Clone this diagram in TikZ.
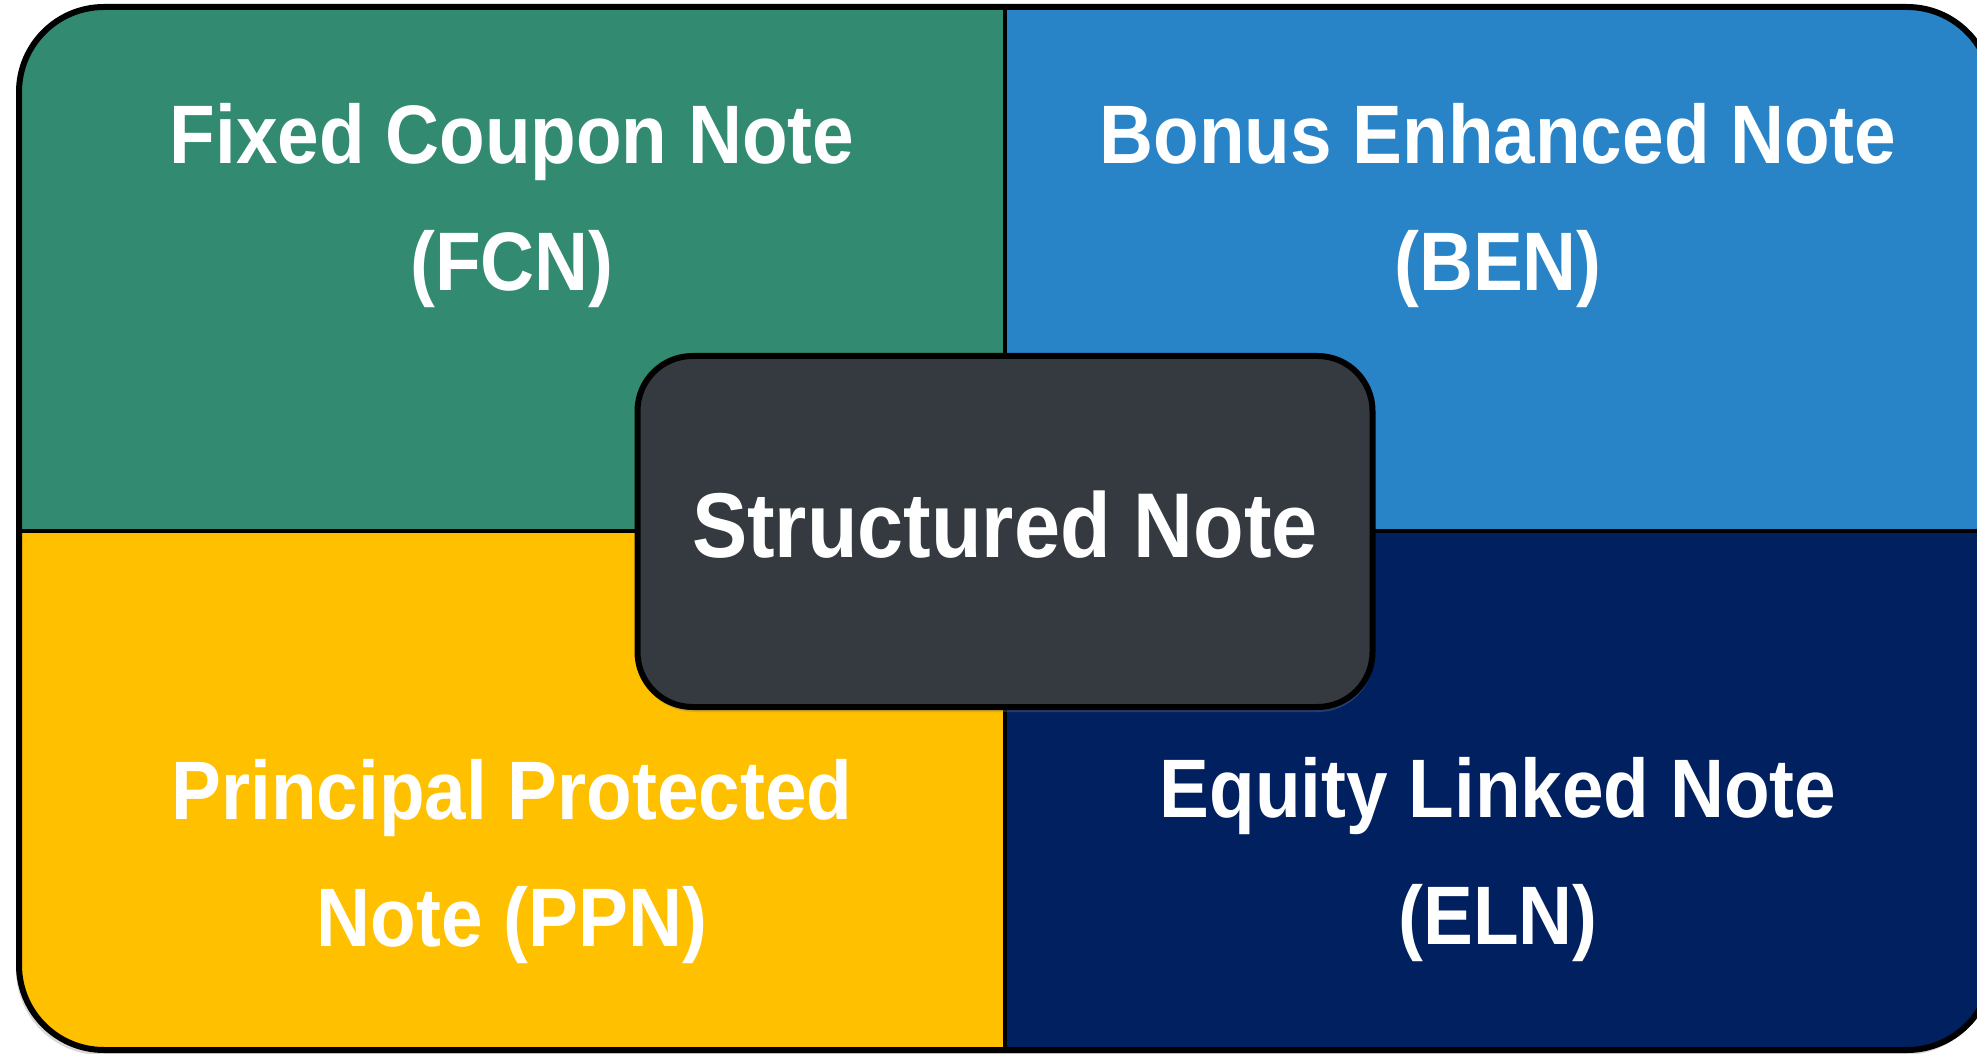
\documentclass[tikz,border=0pt]{standalone}
\usepackage{fontspec}
\setmainfont[FakeStretch=0.9]{Liberation Sans}
\usetikzlibrary{shadows}
\definecolor{fcngreen}{RGB}{50,139,112}
\definecolor{benblue}{RGB}{40,132,198}
\definecolor{ppnyellow}{RGB}{255,192,0}
\definecolor{elnnavy}{RGB}{0,32,96}
\definecolor{coregray}{RGB}{52,58,64}
\begin{document}
\begin{tikzpicture}[x=1pt, y=1pt,
    notetext/.style={text=white, font=\bfseries\fontsize{83}{127}\selectfont, align=center, anchor=base},
    core/.style={draw=black, line width=6pt, fill=coregray, rounded corners=55pt,
      minimum width=735pt, minimum height=351pt, text depth=15pt, text=white,
      font=\bfseries\fontsize{92}{110}\selectfont,
      drop shadow={shadow xshift=1pt, shadow yshift=-5pt, opacity=0.3}}]
  \useasboundingbox (0,0) rectangle (1977,1053);
  % soft shadow under the frame
  \fill[black, opacity=0.15, rounded corners=85pt] (16,-2) rectangle (1990,1042);
  \begin{scope}
    \clip[rounded corners=85pt] (19,3) rectangle (1992,1046);
    \fill[fcngreen]  (19,522)   rectangle (1005,1046);
    \fill[benblue]   (1005,522) rectangle (1992,1046);
    \fill[ppnyellow] (19,3)     rectangle (1005,522);
    \fill[elnnavy]   (1005,3)   rectangle (1992,522);
  \end{scope}
  \draw[line width=4.5pt] (1005,3) -- (1005,1046);
  \draw[line width=4.5pt] (19,522) -- (1992,522);
  \draw[line width=6pt, rounded corners=85pt] (19,3) rectangle (1992,1046);
  \node[core] (sn) at (1005,521.5) {Structured Note};
  % base anchor sits on the last line
  \node[notetext] (fcn) at (512,762)  {Fixed Coupon Note\\(FCN)};
  \node[notetext] (ben) at (1498,762) {Bonus Enhanced Note\\(BEN)};
  \node[notetext] (ppn) at (512,107)  {Principal Protected\\Note (PPN)};
  \node[notetext] (eln) at (1498,109) {Equity Linked Note\\(ELN)};
\end{tikzpicture}
\end{document}
